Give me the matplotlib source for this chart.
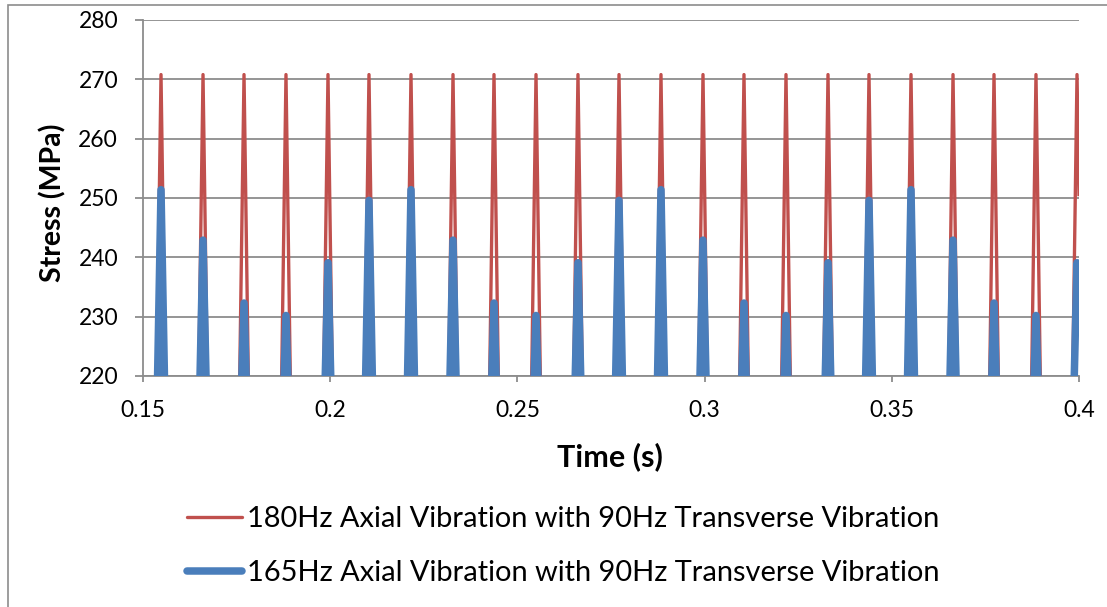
import numpy as np
import matplotlib.pyplot as plt
from matplotlib.patches import Rectangle
from matplotlib.ticker import FuncFormatter

# peak times (s)
peak_times = [0.15481, 0.16603, 0.17698, 0.18819, 0.19941, 0.21036, 0.22158, 0.23280,
              0.24375, 0.25497, 0.26618, 0.27714, 0.28835, 0.29957, 0.31052, 0.32174,
              0.33296, 0.34391, 0.35513, 0.36635, 0.37730, 0.38851, 0.39947]

# peak stresses (MPa)
red_peaks = [270.8, 270.8, 270.8, 270.8, 270.8, 270.8, 270.8, 270.8, 270.8, 270.8, 270.8, 270.8,
             270.8, 270.8, 270.8, 270.8, 270.8, 270.8, 270.8, 270.8, 270.8, 270.8, 270.8]
blue_peaks = [251.4, 242.9, 232.3, 230.2, 239.1, 249.6, 251.4, 242.9, 232.3, 230.2, 239.1, 249.6,
              251.4, 242.9, 232.3, 230.2, 239.1, 249.6, 251.4, 242.9, 232.3, 230.2, 239.1]

# troughs fall below the 220 MPa axis floor (not visible)
trough = 200.0
red_halfwidth = 0.0016
blue_halfwidth = 0.0015
red_end = 250.3     # value at t = 0.4
blue_end = 236.0

red_label = "180Hz Axial Vibration with 90Hz Transverse Vibration"
blue_label = "165Hz Axial Vibration with 90Hz Transverse Vibration"


def build_wave(times, peaks, hw, end_value):
    xs = [0.15]
    ys = [trough]
    for t, p in zip(times, peaks):
        xs += [t - hw, t, t + hw]
        ys += [trough, p, trough]
    # last sample sits at the end of the record
    xs[-1] = 0.4
    ys[-1] = end_value
    return np.array(xs), np.array(ys)


def main():
    plt.rcParams["font.family"] = ["Lato", "DejaVu Sans"]

    fig = plt.figure(figsize=(11.07, 6.07), dpi=100)
    ax = fig.add_axes([143 / 1107, 1 - 376 / 607, 936 / 1107, 356 / 607])

    rx, ry = build_wave(peak_times, red_peaks, red_halfwidth, red_end)
    bx, by = build_wave(peak_times, blue_peaks, blue_halfwidth, blue_end)

    ax.plot(rx, ry, color="#C0504D", lw=2.4, solid_joinstyle="round",
            solid_capstyle="butt", label=red_label, zorder=3)
    ax.plot(bx, by, color="#4A7EBB", lw=5.4, solid_joinstyle="round",
            solid_capstyle="butt", label=blue_label, zorder=4)

    ax.set_xlim(0.15, 0.4)
    ax.set_ylim(220, 280)
    ax.set_xticks([0.15, 0.2, 0.25, 0.3, 0.35, 0.4])
    ax.set_yticks(np.arange(220, 281, 10))
    ax.xaxis.set_major_formatter(FuncFormatter(lambda v, p: "{:g}".format(round(v, 2))))

    ax.set_axisbelow(True)
    ax.grid(axis="y", color="#8c8c8c", lw=1.3)
    for s in ["top", "right"]:
        ax.spines[s].set_visible(False)
    for s in ["left", "bottom"]:
        ax.spines[s].set_color("#8c8c8c")
        ax.spines[s].set_linewidth(1.3)

    ax.tick_params(axis="y", length=6, width=1.3, color="#8c8c8c", pad=12, labelsize=16.5)
    ax.tick_params(axis="x", length=4.5, width=1.3, color="#8c8c8c", pad=13, labelsize=16.5)

    ax.set_xlabel("Time (s)", fontsize=22, fontweight="bold")
    ax.xaxis.set_label_coords(0.499, -0.185)
    ax.set_ylabel("Stress (MPa)", fontsize=20.5, fontweight="bold")
    ax.yaxis.set_label_coords(-0.082, 0.486)

    leg = fig.legend(loc="center left", bbox_to_anchor=(187 / 1107, 1 - 546 / 607),
                     frameon=False, fontsize=20.9, handlelength=1.9, handletextpad=0.17,
                     labelspacing=0.98, borderpad=0, borderaxespad=0)
    for line in leg.get_lines():
        line.set_solid_capstyle("round")

    # chart area border (left and top edges visible)
    fig.patches.append(Rectangle((8 / 1107, -0.1), 1.2, 1 - 5 / 607 + 0.1,
                                 transform=fig.transFigure, fill=False,
                                 ec="#8c8c8c", lw=1.2))

    fig.savefig("out.png", dpi=100)


if __name__ == "__main__":
    main()
